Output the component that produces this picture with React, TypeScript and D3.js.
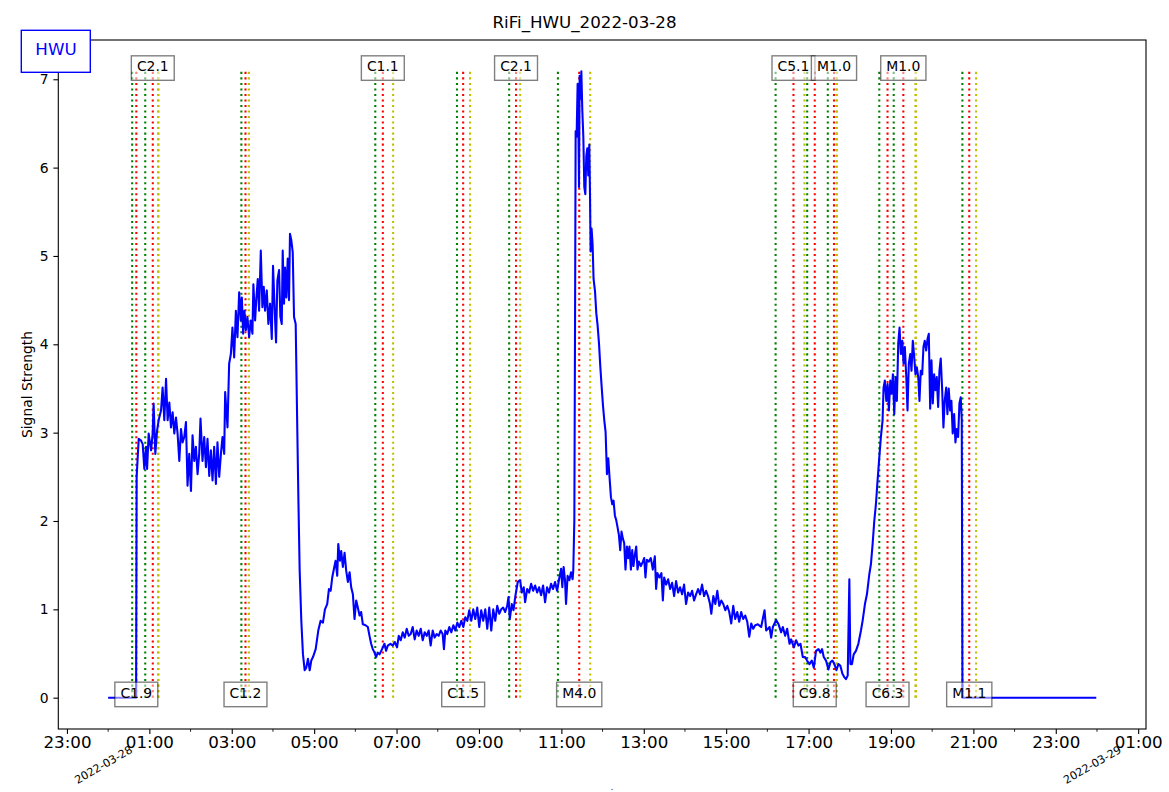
import { useEffect, useRef } from 'react';
import * as d3 from 'd3';

type Pt = [number, number]; // [minutes after 00:00 UT, signal strength]

const earlySeg: Pt[] = [
  [0, 0], [40.7, 0], [41.5, 2.5], [44.5, 2.93], [47.9, 2.91], [50.3, 2.87], [52.7, 2.59], [55.2, 2.84],
  [56.7, 2.59], [59.0, 2.99], [62.5, 2.8], [64.8, 2.99], [66.2, 3.33], [68.7, 2.76], [71.2, 3.02],
  [73.5, 3.14], [77.0, 3.25], [79.3, 3.51], [81.8, 3.14], [84.3, 3.61], [86.6, 3.14], [89.1, 3.34],
  [91.5, 3.06], [93.9, 3.23], [96.3, 2.99], [98.8, 3.17], [101.1, 2.99], [103.6, 2.68], [106.1, 3.04],
  [108.4, 2.89], [110.8, 2.95], [113.3, 3.12], [115.6, 2.4], [118.1, 2.76], [120.6, 2.34], [122.9, 2.97],
  [125.4, 2.68], [127.8, 2.84], [130.2, 2.53], [132.6, 2.76], [134.5, 3.16], [137.4, 2.68], [139.9, 2.95],
  [142.4, 2.61], [144.7, 2.93], [147.2, 2.51], [149.6, 2.8], [152.0, 2.46], [154.4, 2.84], [156.9, 2.42],
  [159.2, 2.89], [161.7, 2.5], [164.2, 2.76], [166.5, 2.95], [169.0, 2.76], [170.4, 3.46], [173.8, 3.06],
  [176.2, 3.78], [178.7, 3.89], [181.0, 4.19], [183.5, 3.85], [186.0, 4.38], [188.3, 4.08], [190.8, 4.59],
  [193.2, 4.27], [194.7, 4.53], [196.6, 4.12], [198.5, 4.38], [200.5, 4.16], [202.8, 4.31], [205.3, 4.08],
  [207.7, 4.27], [210.1, 4.12], [211.5, 4.68], [214.0, 4.27], [215.9, 4.53], [217.9, 4.74], [219.8, 4.38],
  [222.3, 5.06], [224.6, 4.42], [226.6, 4.65], [228.5, 4.38], [231.0, 4.61], [233.3, 4.23], [235.8, 4.46],
  [238.3, 4.06], [240.1, 4.89], [242.6, 4.38], [244.5, 4.02], [246.4, 4.72], [248.9, 4.84], [250.8, 4.31],
  [252.8, 4.23], [254.2, 5.06], [256.1, 4.46], [257.6, 4.87], [259.5, 4.53], [261.5, 4.97], [263.4, 4.5],
  [264.8, 5.25], [266.7, 5.18], [268.8, 5.04], [270.7, 4.31], [273.1, 4.23], [275.4, 3.06], [276.9, 2.31],
  [278.9, 1.44], [281.3, 0.87], [283.7, 0.49], [286.2, 0.31], [288.5, 0.34], [291.0, 0.44], [293.5, 0.31],
  [295.8, 0.42], [298.3, 0.46], [302.2, 0.55], [306.0, 0.76],
];

const dipSeg: Pt[] = [
  [309.4, 0.87], [312.8, 0.85], [315.7, 1.0], [319.0, 1.06], [321.5, 1.23], [324.0, 1.21], [326.3, 1.36],
  [328.8, 1.46], [331.2, 1.55], [333.6, 1.38], [335.1, 1.74], [337.5, 1.55], [339.4, 1.66], [341.8, 1.48],
  [344.3, 1.64], [346.6, 1.44], [349.1, 1.31], [351.6, 1.42], [353.9, 1.25], [356.4, 1.17], [358.8, 0.89],
  [361.2, 1.1], [363.6, 1.02], [366.1, 0.93], [368.4, 0.97], [370.9, 0.83], [374.8, 0.82], [378.2, 0.8],
  [380.6, 0.7], [383.0, 0.61], [385.4, 0.55], [387.9, 0.51], [390.2, 0.46], [392.7, 0.51], [395.2, 0.49],
  [398.9, 0.55], [402.4, 0.61], [404.7, 0.53], [407.2, 0.59], [411.1, 0.61], [414.5, 0.59], [417.4, 0.63],
  [420.7, 0.57], [423.2, 0.7], [426.1, 0.65], [429.0, 0.74], [431.9, 0.68], [434.8, 0.78], [437.7, 0.7],
  [440.6, 0.72], [443.5, 0.8], [446.4, 0.66], [449.3, 0.76], [452.3, 0.7], [455.2, 0.78], [458.1, 0.65],
  [461.0, 0.74], [463.9, 0.7], [466.8, 0.76], [469.7, 0.59], [472.6, 0.76], [475.5, 0.68], [478.4, 0.72],
  [481.3, 0.7], [484.2, 0.76], [487.1, 0.72], [489.0, 0.55], [491.0, 0.76], [493.9, 0.72], [496.8, 0.8],
  [499.8, 0.74], [502.7, 0.82], [505.6, 0.76], [508.5, 0.85], [511.4, 0.8], [514.3, 0.87], [517.2, 0.8],
  [520.1, 0.91], [523.0, 0.87], [525.9, 0.99], [528.8, 0.87], [531.7, 1.0], [534.6, 0.89], [537.5, 1.02],
  [540.4, 0.8], [543.3, 0.99], [546.2, 0.87], [549.2, 1.0], [552.1, 0.78], [555.0, 1.02], [557.9, 0.76],
  [560.8, 1.0], [563.7, 0.87], [566.6, 1.04], [569.5, 0.95], [572.4, 1.0], [575.3, 1.02], [578.2, 0.97],
  [581.1, 1.04], [583.0, 1.14], [584.9, 0.89], [587.8, 1.06], [590.3, 0.99], [593.2, 1.16], [596.5, 1.31],
  [600.0, 1.33], [602.3, 1.19], [605.2, 1.25], [607.2, 1.08], [610.2, 1.23], [613.1, 1.19], [616.0, 1.29],
  [618.9, 1.21], [621.8, 1.27], [624.7, 1.19], [627.6, 1.25], [630.5, 1.16], [633.4, 1.27], [636.3, 1.08],
  [639.2, 1.25], [642.1, 1.19], [645.0, 1.29], [647.9, 1.23], [650.8, 1.31], [653.8, 1.21], [656.7, 1.34],
  [659.6, 1.46], [661.4, 1.25], [663.3, 1.48], [665.3, 1.33], [666.8, 1.06], [669.1, 1.38], [671.6, 1.33],
  [674.1, 1.42], [676.4, 1.34],
];

const m4Seg: Pt[] = [
  [677.4, 1.45], [678.9, 2.01], [679.9, 4.18], [680.8, 6.41], [682.2, 6.35], [683.7, 6.95], [684.7, 6.56],
  [685.7, 5.78], [686.6, 7.04], [688.1, 6.78], [689.1, 7.09], [690.5, 6.65], [692.0, 6.35], [693.4, 5.78],
  [694.9, 5.7], [696.3, 6.13], [697.8, 6.22], [699.2, 5.91], [700.7, 6.26], [701.7, 5.7], [702.6, 5.05],
  [704.0, 5.31], [705.5, 5.13], [706.9, 4.74], [709.0, 4.6], [710.9, 4.35], [712.7, 4.22], [714.8, 4.01],
  [716.7, 3.75], [718.6, 3.53], [720.6, 3.31], [722.5, 3.14], [724.4, 3.01], [726.4, 2.53], [728.3, 2.71],
  [730.2, 2.49], [732.2, 2.27], [734.1, 2.19], [736.0, 2.23], [738.0, 2.06], [739.9, 2.01], [741.8, 1.93],
  [743.8, 1.84], [745.7, 1.67], [747.6, 1.88], [749.6, 1.8], [751.5, 1.75], [753.4, 1.45], [755.5, 1.71],
  [757.4, 1.58], [759.2, 1.71], [761.3, 1.45], [763.2, 1.67], [765.0, 1.49], [767.1, 1.62], [769.0, 1.71],
  [770.9, 1.45], [772.9, 1.54], [775.8, 1.49], [778.7, 1.54], [780.6, 1.58], [782.5, 1.36], [784.5, 1.56],
  [787.4, 1.54], [790.3, 1.58], [793.2, 1.45], [796.1, 1.6], [798.0, 1.23], [799.9, 1.41], [802.8, 1.36],
  [805.7, 1.41], [807.8, 1.1], [809.7, 1.36], [812.6, 1.28], [815.5, 1.34], [818.4, 1.23], [821.3, 1.3],
  [824.2, 1.15], [827.1, 1.32], [830.0, 1.19], [832.9, 1.25], [835.8, 1.17], [838.7, 1.28], [841.6, 1.06],
  [844.6, 1.19], [847.5, 1.15], [850.4, 1.21], [853.3, 1.1], [856.2, 1.17], [859.1, 1.23], [862.0, 1.17],
  [864.9, 1.28], [867.8, 1.15], [870.7, 1.21], [873.6, 1.15], [876.5, 1.06], [878.4, 0.95], [881.3, 1.15],
  [884.2, 1.06], [887.1, 1.21], [890.0, 1.04], [892.9, 1.1], [895.8, 1.06], [898.7, 0.99], [901.6, 1.04],
  [904.5, 0.97], [907.4, 0.84], [910.3, 1.04], [913.2, 0.89], [916.1, 0.97], [919.0, 0.86], [921.9, 0.97],
  [924.8, 0.89], [927.8, 0.93], [930.7, 0.86], [933.6, 0.69], [936.5, 0.84], [939.4, 0.78], [942.3, 0.82],
];

const lateSeg: Pt[] = [
  [946.2, 0.83], [951.0, 0.8], [955.9, 0.99], [958.3, 0.76], [963.2, 0.8], [965.5, 0.68], [968.0, 0.8],
  [972.8, 0.88], [976.3, 0.83], [980.1, 0.74], [982.5, 0.8], [985.9, 0.7], [988.8, 0.78], [992.3, 0.61],
  [994.6, 0.66], [998.6, 0.57], [1001.8, 0.65], [1005.3, 0.59], [1008.2, 0.61], [1011.6, 0.46],
  [1014.9, 0.46], [1017.8, 0.42], [1021.3, 0.38], [1024.7, 0.42], [1027.6, 0.34], [1030.9, 0.53],
  [1034.4, 0.55], [1037.3, 0.51], [1039.6, 0.55], [1042.1, 0.46], [1045.4, 0.42], [1048.9, 0.32],
  [1051.8, 0.4], [1054.7, 0.42], [1057.6, 0.38], [1060.5, 0.31], [1063.5, 0.38], [1066.4, 0.36],
  [1069.3, 0.27], [1072.2, 0.23], [1074.5, 0.21], [1077.0, 0.25], [1079.4, 1.34], [1080.9, 0.38],
  [1083.2, 0.38], [1085.7, 0.49], [1089.0, 0.53], [1092.5, 0.61], [1096.3, 0.76], [1098.7, 0.87],
  [1102.1, 1.06], [1105.0, 1.17], [1108.5, 1.4], [1110.8, 1.51], [1113.3, 1.74], [1115.7, 2.0],
  [1118.1, 2.19], [1120.5, 2.46], [1123.0, 2.72], [1125.3, 2.95], [1127.8, 3.14], [1129.2, 3.51],
  [1131.1, 3.59], [1133.2, 3.36], [1135.1, 3.55], [1137.0, 3.25], [1139.0, 3.59], [1140.9, 3.44],
  [1142.8, 3.66], [1144.8, 3.21], [1146.7, 3.63], [1148.6, 3.36], [1150.6, 4.01], [1152.5, 4.19],
  [1154.4, 3.89], [1156.5, 4.04], [1158.3, 3.78], [1160.2, 3.97], [1162.3, 3.63], [1164.1, 3.25],
  [1166.0, 3.78], [1168.1, 3.89], [1169.9, 3.7], [1171.8, 4.04], [1173.9, 3.85], [1175.7, 3.66],
  [1177.6, 3.74], [1179.7, 3.63], [1181.5, 3.36], [1183.4, 3.7], [1185.5, 3.66], [1187.3, 3.97],
  [1189.2, 4.04], [1191.3, 3.93], [1193.2, 4.06], [1195.1, 4.12], [1197.1, 3.27], [1199.0, 3.82],
  [1200.9, 3.33], [1202.9, 3.66], [1204.8, 3.48], [1206.7, 3.63], [1208.7, 3.29], [1210.6, 3.7],
  [1212.5, 3.84], [1214.6, 3.48], [1216.4, 3.06], [1218.3, 3.36], [1220.4, 3.51], [1222.2, 3.21],
  [1224.1, 3.5], [1226.2, 3.25], [1228.0, 3.36], [1229.9, 2.99], [1232.0, 3.21], [1233.9, 2.89],
  [1235.8, 3.04], [1237.8, 2.95], [1239.7, 3.33], [1241.6, 3.4], [1243.1, 3.14], [1244.1, 0], [1439, 0],
];

// GOES flares of the day
const flareClass = ['C1.9', 'C2.1', 'C1.2', 'C1.1', 'C1.5', 'C2.1', 'M4.0', 'C5.1', 'C9.8', 'M1.0', 'C6.3', 'M1.0', 'M1.1'];
const flareStart = ['00:35', '00:54', '03:14', '06:29', '08:28', '09:44', '10:55', '16:12', '16:58', '17:28', '18:43', '19:04', '20:44'];
const flarePeak = ['00:41', '01:05', '03:20', '06:40', '08:37', '09:54', '11:26', '16:38', '17:09', '17:37', '18:55', '19:18', '20:54'];
const flareEnd = ['01:13', '01:13', '03:25', '06:55', '08:47', '10:00', '11:42', '16:54', '17:41', '17:41', '19:36', '19:36', '21:04'];

const dayLabels = ['2022-03-28', '2022-03-29'];

const W = 1169;
const H = 792;
const FONT = 'DejaVu Sans, sans-serif';

const t0 = Date.UTC(2022, 2, 28);
const toDate = (m: number) => new Date(t0 + m * 60000);
const hm = (s: string) => {
  const [h, m] = s.split(':').map(Number);
  return h * 60 + m;
};

const App = () => {
  const svgRef = useRef<SVGSVGElement>(null);

  useEffect(() => {
    if (!svgRef.current) return;
    const svg = d3.select(svgRef.current);
    svg.selectAll('*').remove();

    const left = 58.3, right = 1146, top = 40, bottom = 729;
    const series = [...earlySeg, ...dipSeg, ...m4Seg, ...lateSeg];
    const vmax = d3.max(series, d => d[1]) as number;
    const pad = vmax * 0.05;

    const x = d3.scaleUtc()
      .domain([toDate(-72.6), toDate(1511.4)])
      .range([left, right]);
    const y = d3.scaleLinear()
      .domain([-pad, vmax + pad])
      .range([bottom, top]);

    svg.append('rect').attr('width', W).attr('height', H).attr('fill', 'white');

    // flare start / peak / end markers
    const vl = svg.append('g');
    const colors = ['green', 'red', '#bfbf00'];
    flareClass.forEach((_, i) => {
      [flareStart[i], flarePeak[i], flareEnd[i]].forEach((t, k) => {
        const px = x(toDate(hm(t)));
        vl.append('line')
          .attr('x1', px).attr('x2', px)
          .attr('y1', y(0)).attr('y2', y(vmax))
          .attr('stroke', colors[k])
          .attr('stroke-width', 2.08)
          .attr('stroke-dasharray', '2.08 3.44');
      });
    });

    // signal
    const line = d3.line<Pt>()
      .x(d => x(toDate(d[0])))
      .y(d => y(d[1]));
    svg.append('path')
      .datum(series)
      .attr('d', line)
      .attr('fill', 'none')
      .attr('stroke', '#0000ff')
      .attr('stroke-width', 2.08)
      .attr('stroke-linejoin', 'round');

    // flare class labels, alternating bottom / top
    flareClass.forEach((c, i) => {
      const px = x(toDate(hm(flarePeak[i])));
      const base = y(i % 2 ? vmax : 0);
      const g = svg.append('g');
      const box = g.append('rect');
      const t = g.append('text')
        .attr('x', px).attr('y', base)
        .attr('text-anchor', 'middle')
        .style('font-family', FONT)
        .style('font-size', '13.9px')
        .text(c);
      const w = (t.node() as SVGTextElement).getComputedTextLength();
      box.attr('x', px - w / 2 - 5.56)
        .attr('y', base - 15.5)
        .attr('width', w + 11.12)
        .attr('height', 24.5)
        .attr('fill', 'rgba(255,255,255,0.5)')
        .attr('stroke', 'rgba(0,0,0,0.5)')
        .attr('stroke-width', 1.39);
    });

    // frame
    svg.append('rect')
      .attr('x', left).attr('y', top)
      .attr('width', right - left).attr('height', bottom - top)
      .attr('fill', 'none').attr('stroke', 'black').attr('stroke-width', 1.1);

    // y axis
    const yAxis = d3.axisLeft(y).tickValues(d3.range(0, 8)).tickSize(4.9).tickPadding(4.9).tickSizeOuter(0);
    const ya = svg.append('g').attr('transform', `translate(${left},0)`).call(yAxis);
    ya.select('.domain').remove();
    ya.selectAll('line').attr('stroke-width', 1.1);
    ya.selectAll('text').style('font-family', FONT).style('font-size', '13.9px').attr('fill', 'black');

    // x axis: odd hours labelled, every hour ticked
    const hours = d3.utcHour.range(toDate(-72.6), toDate(1511.4));
    const major = hours.filter(d => d.getUTCHours() % 2 === 1);
    const minor = hours.filter(d => d.getUTCHours() % 2 === 0);
    const xAxis = d3.axisBottom(x).tickValues(major).tickFormat(d3.utcFormat('%H:%M') as any)
      .tickSize(4.9).tickPadding(2.5).tickSizeOuter(0);
    const xa = svg.append('g').attr('transform', `translate(0,${bottom})`).call(xAxis);
    xa.select('.domain').remove();
    xa.selectAll('line').attr('stroke-width', 1.1);
    xa.selectAll('text').style('font-family', FONT).style('font-size', '16.7px').attr('fill', 'black');

    svg.append('g').selectAll('line')
      .data(minor)
      .enter()
      .append('line')
      .attr('x1', d => x(d)).attr('x2', d => x(d))
      .attr('y1', bottom).attr('y2', bottom + 2.8)
      .attr('stroke', 'black').attr('stroke-width', 0.84);

    // day labels under midnight
    dayLabels.forEach((s, i) => {
      const px = x(toDate(i * 1440)) - 4.5;
      svg.append('text')
        .attr('transform', `translate(${px},765) rotate(-30)`)
        .attr('text-anchor', 'middle')
        .attr('dominant-baseline', 'central')
        .style('font-family', FONT)
        .style('font-size', '11.1px')
        .text(s);
    });

    svg.append('text')
      .attr('x', 612).attr('y', 789.5)
      .attr('text-anchor', 'middle')
      .style('font-family', FONT)
      .style('font-size', '8px')
      .text('.');

    // title and y label
    svg.append('text')
      .attr('x', W / 2).attr('y', 28)
      .attr('text-anchor', 'middle')
      .style('font-family', FONT)
      .style('font-size', '16.7px')
      .text('RiFi_HWU_2022-03-28');

    svg.append('text')
      .attr('transform', `translate(32,${(top + bottom) / 2}) rotate(-90)`)
      .attr('text-anchor', 'middle')
      .style('font-family', FONT)
      .style('font-size', '13.9px')
      .text('Signal Strength');

    // station box
    svg.append('rect')
      .attr('x', 21.3).attr('y', 30.3)
      .attr('width', 69).attr('height', 42)
      .attr('fill', 'white').attr('stroke', '#0000ff').attr('stroke-width', 1.39);
    svg.append('text')
      .attr('x', 56).attr('y', 55.3)
      .attr('text-anchor', 'middle')
      .attr('fill', '#0000ff')
      .style('font-family', FONT)
      .style('font-size', '16.7px')
      .text('HWU');
  }, []);

  return (
    <div style={{ position: 'absolute', left: 0, top: 0 }}>
      <svg ref={svgRef} width={W} height={H} style={{ display: 'block' }}></svg>
    </div>
  );
};

export default App;
